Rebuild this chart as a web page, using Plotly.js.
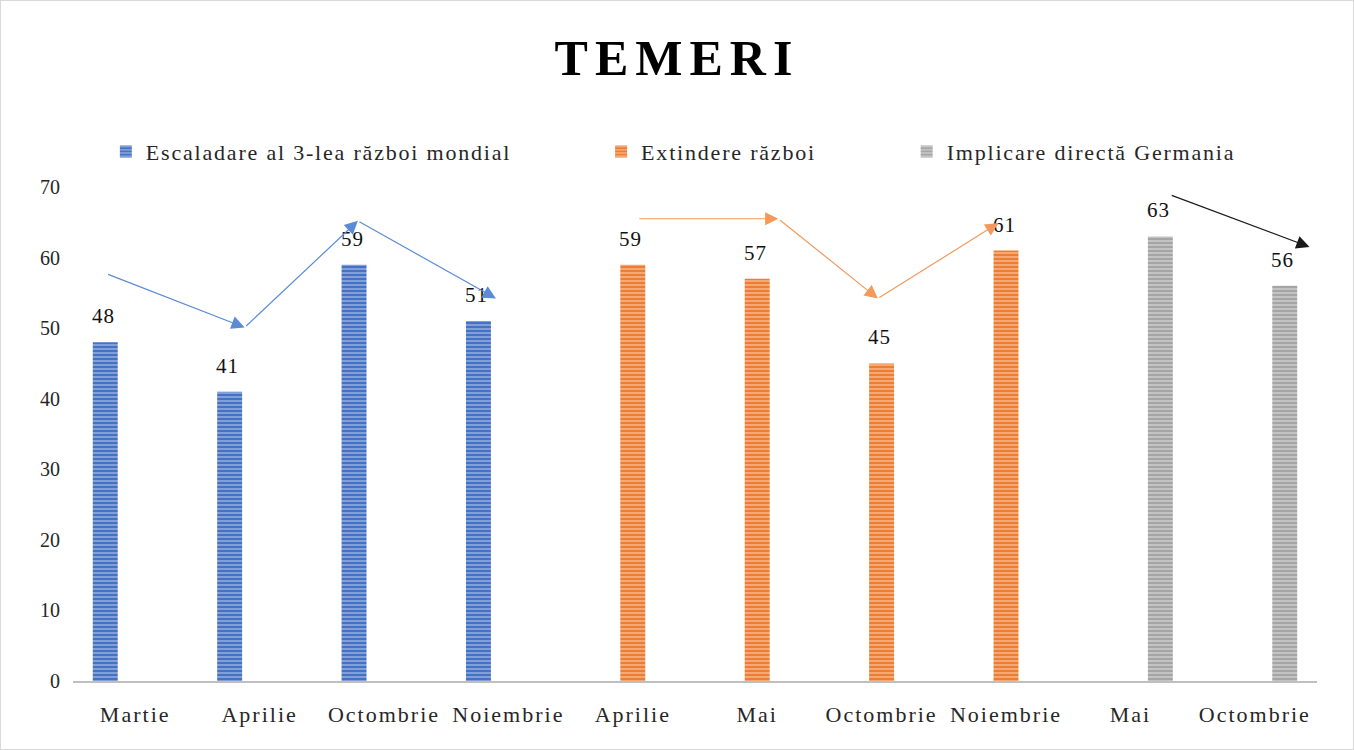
<!DOCTYPE html>
<html>
<head>
<meta charset="utf-8">
<script src="https://cdn.plot.ly/plotly-3.0.1.min.js"></script>
<style>
  html, body { margin: 0; padding: 0; background: #fff; }
  #chart { width: 1352px; height: 748px; border: 1px solid #d9d9d9; }
  .gtitle { letter-spacing: 7px; }
  .xtick text { letter-spacing: 2px; }
  .legendtext, .legend2text, .legend3text { letter-spacing: 1.8px; }
  .annotation-text { letter-spacing: 1px; }
</style>
</head>
<body>
<div id="chart"></div>
<script>
// ---- data ----
const tickLabels = ["Martie", "Aprilie", "Octombrie", "Noiembrie", "Aprilie", "Mai", "Octombrie", "Noiembrie", "Mai", "Octombrie"];
const seriesNames = ["Escaladare al 3-lea război mondial", "Extindere război", "Implicare directă Germania"];
const escaladareX = [0, 1, 2, 3];
const escaladareY = [48, 41, 59, 51];
const extindereX = [4, 5, 6, 7];
const extindereY = [59, 57, 45, 61];
const germaniaX = [8, 9];
const germaniaY = [63, 56];
// trend arrows (data coordinates)
const blueArrowX = [-0.23, 0.88, 1.79, 2.90];
const blueArrowY = [57.7, 50.1, 65.2, 54.2];
const orangeArrowX = [4.04, 5.17, 5.97, 6.94];
const orangeArrowY = [65.5, 65.5, 54.2, 64.9];
const blackArrowX = [8.32, 9.44];
const blackArrowY = [68.9, 61.5];

const colors = ["#4472C4", "#ED7D31", "#A5A5A5"];
const arrowColors = ["#5B8BD6", "#F29A5C", "#1a1a1a"];
const serif = "Liberation Serif, Times New Roman, serif";

const W = 1354, H = 750;
const margin = { l: 72, r: 36, t: 186, b: 68 };
const catPx = (W - margin.l - margin.r) / tickLabels.length;
const slot = 30 / catPx;      // slot width in category units
const barW = 25 / catPx;      // bar width in category units

function barTrace(i, xs, ys) {
  const center = (i - 1) * slot;
  return {
    type: "bar", x: xs, y: ys, name: seriesNames[i],
    legend: i === 0 ? "legend" : "legend" + (i + 1),
    width: barW, offset: center - barW / 2,
    marker: {
      color: colors[i],
      line: { width: 0 },
      pattern: { shape: "-", fgcolor: "rgba(255,255,255,0.55)", bgcolor: colors[i], size: 4, solidity: 0.3, fillmode: "replace" }
    },
    hoverinfo: "x+y"
  };
}

const traces = [
  barTrace(0, escaladareX, escaladareY),
  barTrace(1, extindereX, extindereY),
  barTrace(2, germaniaX, germaniaY)
];

const annotations = [];
// value labels
[[escaladareX, escaladareY, -1], [extindereX, extindereY, 0], [germaniaX, germaniaY, 1]].forEach(([xs, ys, off]) => {
  xs.forEach((x, k) => {
    annotations.push({
      x: x + off * slot, y: ys[k], xref: "x", yref: "y", text: String(ys[k]), showarrow: false,
      yanchor: "bottom", yshift: 12, xshift: -2,
      font: { family: serif, size: 21, color: "#111" }
    });
  });
});
// arrows
function addArrows(xs, ys, color) {
  for (let k = 1; k < xs.length; k++) {
    annotations.push({
      x: xs[k], y: ys[k], ax: xs[k - 1], ay: ys[k - 1],
      xref: "x", yref: "y", axref: "x", ayref: "y",
      showarrow: true, arrowhead: 2, arrowsize: 2.2, arrowwidth: 1.2, arrowcolor: color, text: ""
    });
  }
}
addArrows(blueArrowX, blueArrowY, arrowColors[0]);
addArrows(orangeArrowX, orangeArrowY, arrowColors[1]);
addArrows(blackArrowX, blackArrowY, arrowColors[2]);

function legendAt(xPx) {
  return {
    orientation: "h", xref: "container", yref: "container",
    x: xPx / W, xanchor: "left", y: 1 - 151 / H, yanchor: "middle",
    font: { family: serif, size: 22, color: "#262626" },
    bgcolor: "rgba(0,0,0,0)", itemclick: false, itemdoubleclick: false
  };
}

const layout = {
  width: 1352, height: 748,
  margin: margin,
  paper_bgcolor: "#ffffff", plot_bgcolor: "#ffffff",
  barmode: "overlay",
  title: {
    text: "<b>TEMERI</b>", x: 0.5, xanchor: "center",
    yref: "container", y: 1 - 57 / H, yanchor: "middle",
    font: { family: serif, size: 50, color: "#000" }
  },
  showlegend: true,
  legend: legendAt(105),
  legend2: legendAt(601),
  legend3: legendAt(907),
  xaxis: {
    tickmode: "array", tickvals: tickLabels.map((_, i) => i), ticktext: tickLabels,
    range: [-0.5, tickLabels.length - 0.5],
    showgrid: false, zeroline: false, showline: true, linecolor: "#bfbfbf", linewidth: 1.5,
    ticks: "", ticklabelstandoff: 13,
    tickfont: { family: serif, size: 22, color: "#262626" }
  },
  yaxis: {
    range: [0, 70], dtick: 10, showgrid: false, zeroline: false, showline: false,
    ticks: "", ticklabelstandoff: 12,
    tickfont: { family: serif, size: 20, color: "#262626" }
  },
  annotations: annotations
};

Plotly.newPlot("chart", traces, layout, { displayModeBar: false, staticPlot: true });
</script>
</body>
</html>
